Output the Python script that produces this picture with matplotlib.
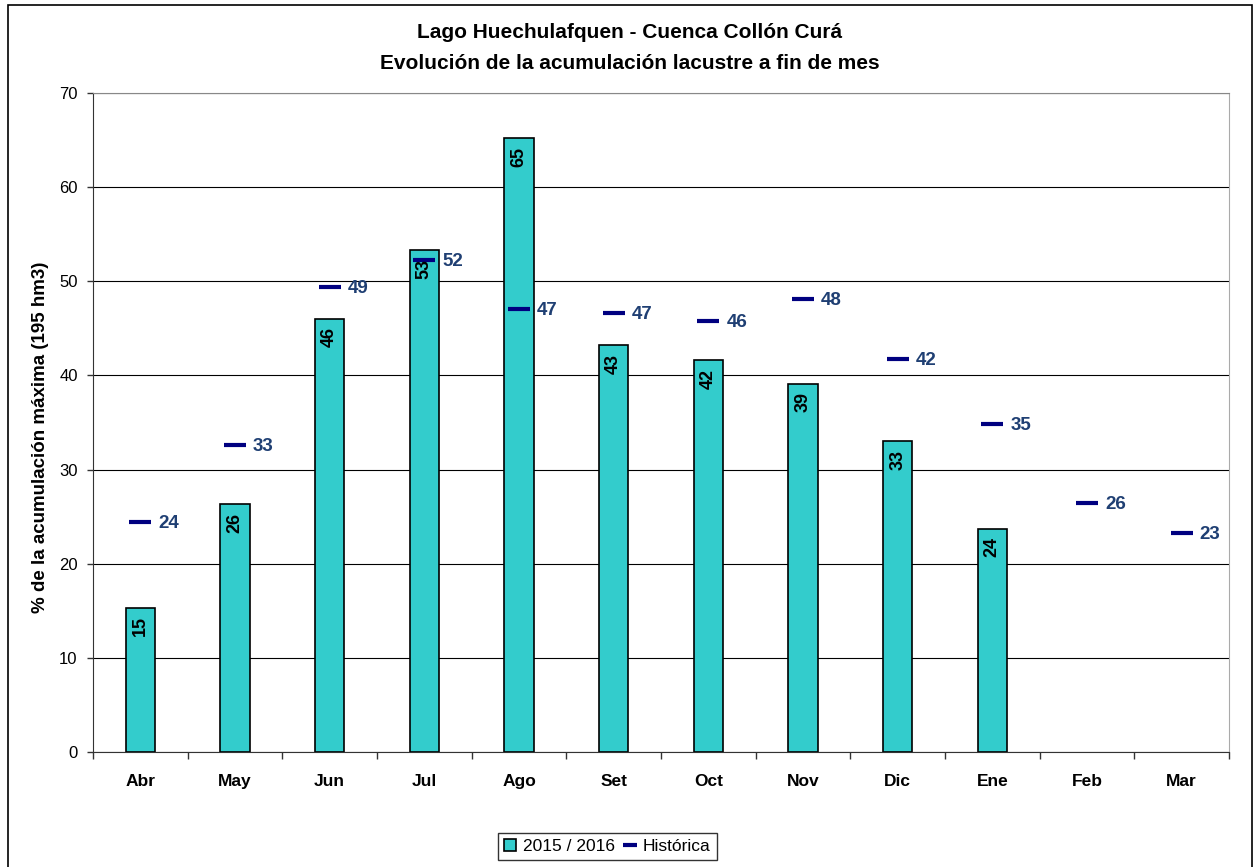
import numpy as np
import matplotlib.pyplot as plt
from matplotlib.patches import Rectangle

plt.rcParams['font.family'] = ['Liberation Sans', 'DejaVu Sans']

# Monthly lake storage (% of max, 195 hm3)
meses = ["Abr", "May", "Jun", "Jul", "Ago", "Set", "Oct", "Nov", "Dic", "Ene", "Feb", "Mar"]
actual = [15.3, 26.3, 46.0, 53.3, 65.2, 43.2, 41.6, 39.1, 33.0, 23.7]
historica = [24.4, 32.6, 49.4, 52.3, 47.1, 46.6, 45.8, 48.1, 41.7, 34.8, 26.4, 23.3]

fig = plt.figure(figsize=(12.6, 8.67), dpi=100)
ax = fig.add_axes([0.0738, 0.1326, 0.9016, 0.7601])

x = np.arange(len(meses))
xa = x[:len(actual)]

ax.set_axisbelow(True)
ax.yaxis.grid(True, color="black", linewidth=0.8)

bars = ax.bar(xa, actual, width=0.31, color="#33CCCC", edgecolor="black",
              linewidth=1.2, label="2015 / 2016", zorder=2)
for xi, v in zip(xa, actual):
    ax.annotate(f"{v:.0f}", (xi, v), xytext=(0, -6), textcoords="offset points",
                rotation=90, ha="center", va="top", fontsize=13,
                fontweight="bold", color="black", zorder=4)

hist_line, = ax.plot(x, historica, linestyle="none", marker="_", markersize=16,
                     markeredgewidth=3, color="#000080", label="Histórica",
                     zorder=3)
for xi, v in zip(x, historica):
    ax.annotate(f"{v:.0f}", (xi, v), xytext=(13, -1), textcoords="offset points",
                ha="left", va="center", fontsize=13.5, fontweight="bold",
                color="#1F3F73", zorder=4)

ax.set_xlim(-0.5, len(meses) - 0.5)
ax.set_ylim(0, 70)
ax.set_yticks(range(0, 71, 10))
ax.set_xticks(x)
ax.set_xticklabels(meses, fontsize=12.5, fontweight="bold")
ax.set_xticks(np.arange(-0.5, len(meses), 1), minor=True)
ax.tick_params(axis="x", which="major", length=0, pad=16)
ax.tick_params(axis="x", which="minor", length=5, width=1, color="#333333")
ax.tick_params(axis="y", length=4, width=1, pad=7, labelsize=12, color="#333333")

ax.spines["left"].set_color("#333333")
ax.spines["bottom"].set_color("#333333")
ax.spines["top"].set_color("#888888")
ax.spines["right"].set_color("#aaaaaa")

ax.set_ylabel("% de la acumulación máxima (195 hm3)", fontsize=13.5,
              fontweight="bold")
ax.yaxis.set_label_coords(-0.039, 0.478)

fig.text(0.5, 0.963, "Lago Huechulafquen - Cuenca Collón Curá", ha="center",
         va="center", fontsize=15, fontweight="bold")
fig.text(0.5, 0.927, "Evolución de la acumulación lacustre a fin de mes",
         ha="center", va="center", fontsize=15, fontweight="bold")

leg = fig.legend([bars, hist_line], ["2015 / 2016", "Histórica"],
                 loc="center", bbox_to_anchor=(0.482, 0.024), ncol=2,
                 fontsize=12.5, frameon=True, fancybox=False, edgecolor="black",
                 handlelength=0.7, handleheight=0.7, handletextpad=0.4,
                 columnspacing=0.5, borderpad=0.35)
leg.get_frame().set_linewidth(1)
leg.legend_handles[1].set_markersize(10)

# outer chart frame
fig.patches.append(Rectangle((8 / 1260, -0.02), 1244 / 1260, 1.02 - 5 / 867,
                             transform=fig.transFigure, fill=False,
                             edgecolor="black", linewidth=1.2))

fig.savefig("out.png", dpi=100)
